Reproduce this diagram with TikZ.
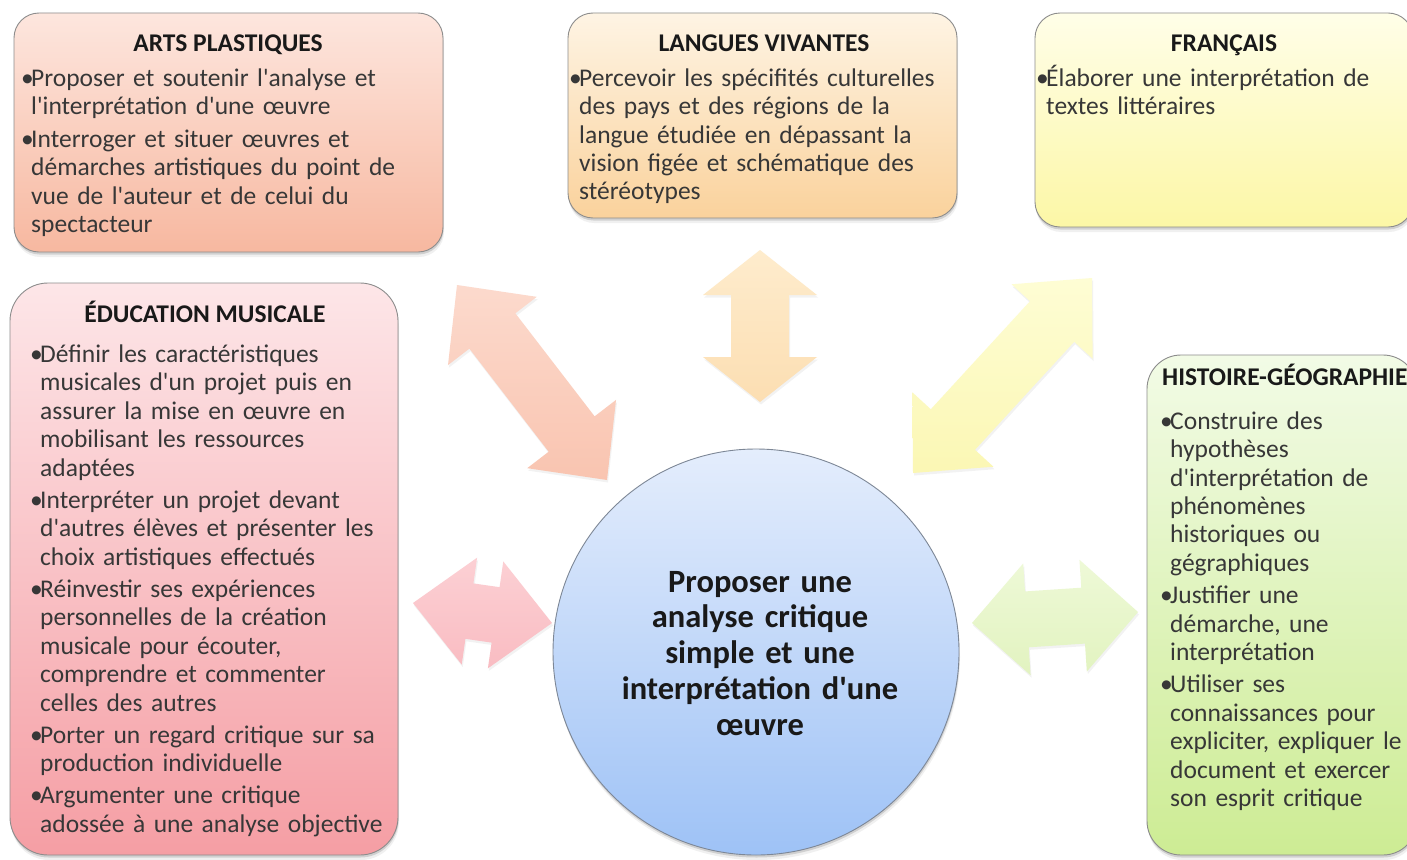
\documentclass[tikz,border=0pt]{standalone}
\usepackage{fontspec}
\setmainfont{Carlito}[Ligatures=TeXOff]
\usetikzlibrary{calc}
\definecolor{artsT}{RGB}{253,230,222}
\definecolor{artsB}{RGB}{247,184,160}
\definecolor{langT}{RGB}{254,244,228}
\definecolor{langB}{RGB}{250,210,156}
\definecolor{frT}{RGB}{255,254,232}
\definecolor{frB}{RGB}{252,247,166}
\definecolor{eduT}{RGB}{253,230,232}
\definecolor{eduB}{RGB}{245,158,164}
\definecolor{hgT}{RGB}{242,251,230}
\definecolor{hgB}{RGB}{205,236,148}
\definecolor{ciT}{RGB}{228,237,252}
\definecolor{ciB}{RGB}{158,194,246}
\definecolor{aartsT}{RGB}{252,218,205}
\definecolor{aartsB}{RGB}{249,196,176}
\definecolor{alangT}{RGB}{254,236,205}
\definecolor{alangB}{RGB}{252,222,178}
\definecolor{afrT}{RGB}{254,253,212}
\definecolor{afrB}{RGB}{251,247,180}
\definecolor{aeduT}{RGB}{252,208,212}
\definecolor{aeduB}{RGB}{249,188,194}
\definecolor{ahgT}{RGB}{238,249,215}
\definecolor{ahgB}{RGB}{226,243,192}
\definecolor{bordergray}{RGB}{140,140,140}
\definecolor{circleborder}{RGB}{125,135,150}
\definecolor{txtgray}{RGB}{55,55,55}
\definecolor{titlegray}{RGB}{25,25,25}

\newlength{\bw}\setlength{\bw}{10pt}
\newcommand{\bitem}{\hangindent=\bw\hangafter=1\noindent\makebox[\bw][l]{•}}
\newcommand{\fstrut}{\rule{0pt}{21pt}}
\newcommand{\dblarrow}[6]{%
  \coordinate (dA) at (#1); \coordinate (dB) at (#2);
  \coordinate (dP) at ($(dA)!#3!(dB)$);
  \coordinate (dQ) at ($(dB)!#3!(dA)$);
  \path[#6] (dA) -- ($(dP)!#4!90:(dB)$) -- ($(dP)!#5!90:(dB)$)
    -- ($(dQ)!#5!-90:(dA)$) -- ($(dQ)!#4!-90:(dA)$) -- (dB)
    -- ($(dQ)!#4!90:(dA)$) -- ($(dQ)!#5!90:(dA)$)
    -- ($(dP)!#5!-90:(dB)$) -- ($(dP)!#4!-90:(dB)$) -- cycle;}

\tikzset{
  boxshadow/.style={preaction={fill=black,opacity=0.13,transform canvas={xshift=0.5pt,yshift=-2.5pt}},
                    preaction={fill=black,opacity=0.06,transform canvas={xshift=1pt,yshift=-5pt}}},
  arrowshadow/.style={preaction={fill=black,opacity=0.05,transform canvas={xshift=1pt,yshift=-2.5pt}}},
  box/.style={rectangle, draw=bordergray, line width=0.9pt, inner sep=0pt, boxshadow},
  boxtitle/.style={inner sep=0pt, anchor=base, text=titlegray, font=\fontsize{25.5}{28}\selectfont\bfseries},
  bodytext/.style={inner sep=0pt, anchor=north west, text width=500pt, text=txtgray,
                   font=\fontsize{25.5}{28.4}\selectfont},
  bigarrow/.style={arrowshadow},
}

\begin{document}
\begin{tikzpicture}[x=1pt,y=-1pt]
\path[use as bounding box] (0,0) rectangle (1407,859);
\clip (0,0) rectangle (1407,859);
\fill[white] (0,0) rectangle (1407,859);

% boxes
\node[box, rounded corners=25pt, minimum width=429pt, minimum height=239pt,
      top color=artsT, bottom color=artsB] (arts) at (228.5,132.5) {};
\node[box, rounded corners=25pt, minimum width=389pt, minimum height=205pt,
      top color=langT, bottom color=langB] (langues) at (762.5,115.5) {};
\node[box, rounded corners=25pt, minimum width=378pt, minimum height=214pt,
      top color=frT, bottom color=frB] (francais) at (1224,120) {};
\node[box, rounded corners=38pt, minimum width=388pt, minimum height=572pt,
      top color=eduT, bottom color=eduB] (educ) at (204,569) {};
\node[box, rounded corners=34pt, minimum width=270pt, minimum height=500pt,
      top color=hgT, bottom color=hgB] (histgeo) at (1282,605) {};

% arrow end points
\coordinate (ap1) at (457,285);  \coordinate (ap2) at (607,480);
\coordinate (lv1) at (760,250);  \coordinate (lv2) at (760,402);
\coordinate (fr1) at (1092,278); \coordinate (fr2) at (913,473);
\coordinate (em1) at (413,603);  \coordinate (em2) at (552,623);
\coordinate (hg1) at (972,623);  \coordinate (hg2) at (1138,612);

\dblarrow{ap1}{ap2}{58pt}{56pt}{29pt}{bigarrow, top color=aartsT, bottom color=aartsB}
\dblarrow{lv1}{lv2}{45pt}{57pt}{29pt}{bigarrow, top color=alangT, bottom color=alangB}
\dblarrow{fr1}{fr2}{59pt}{55pt}{30pt}{bigarrow, top color=afrT, bottom color=afrB}
\dblarrow{em1}{em2}{57pt}{54pt}{28pt}{bigarrow, top color=aeduT, bottom color=aeduB}
\dblarrow{hg1}{hg2}{55pt}{56pt}{28pt}{bigarrow, top color=ahgT, bottom color=ahgB}

% central circle
\node[circle, draw=circleborder, line width=0.9pt, minimum size=406pt, inner sep=0pt,
      top color=ciT, bottom color=ciB, boxshadow] (centre) at (756,652) {};
\node[inner sep=0pt, anchor=north, text width=340pt, align=center, text=titlegray,
      font=\fontsize{32.5}{35.7}\selectfont\bfseries] (centretext) at (760,565)
  {\rule{0pt}{27pt}Proposer une\\ analyse critique\\ simple et une\\ interprétation d'une\\ œuvre};

% titles
\node[boxtitle] (artsT) at (228,52) {ARTS PLASTIQUES};
\node[boxtitle] (languesT) at (764,52) {LANGUES VIVANTES};
\node[boxtitle] (francaisT) at (1224,52) {FRANÇAIS};
\node[boxtitle] (educT) at (205,322) {ÉDUCATION MUSICALE};
\node[boxtitle, anchor=base west] (histgeoT) at (1162,385) {HISTOIRE-GÉOGRAPHIE};

% bodies
\node[bodytext] (artsB) at (21,65) {\setlength{\parskip}{4.5pt}%
\bitem\fstrut Proposer et soutenir l'analyse et\newline l'interprétation d'une œuvre\par
\bitem Interroger et situer œuvres et\newline démarches artistiques du point de\newline vue de l'auteur et de celui du\newline spectacteur\par};

\node[bodytext] (languesB) at (569,65) {\setlength{\parskip}{4.5pt}%
\bitem\fstrut Percevoir les spécifités culturelles\newline des pays et des régions de la\newline langue étudiée en dépassant la\newline vision figée et schématique des\newline stéréotypes\par};

\node[bodytext] (francaisB) at (1036,65) {\setlength{\parskip}{4.5pt}%
\bitem\fstrut Élaborer une interprétation de\newline textes littéraires\par};

\node[bodytext, font=\fontsize{25.5}{28.5}\selectfont] (educB) at (30,341) {\setlength{\parskip}{3.5pt}%
\bitem\fstrut Définir les caractéristiques\newline musicales d'un projet puis en\newline assurer la mise en œuvre en\newline mobilisant les ressources\newline adaptées\par
\bitem Interpréter un projet devant\newline d'autres élèves et présenter les\newline choix artistiques effectués\par
\bitem Réinvestir ses expériences\newline personnelles de la création\newline musicale pour écouter,\newline comprendre et commenter\newline celles des autres\par
\bitem Porter un regard critique sur sa\newline production individuelle\par
\bitem Argumenter une critique\newline adossée à une analyse objective\par};

\node[bodytext] (histgeoB) at (1160,408) {\setlength{\parskip}{4pt}%
\bitem\fstrut Construire des\newline hypothèses\newline d'interprétation de\newline phénomènes\newline historiques ou\newline gégraphiques\par
\bitem Justifier une\newline démarche, une\newline interprétation\par
\bitem Utiliser ses\newline connaissances pour\newline expliciter, expliquer le\newline document et exercer\newline son esprit critique\par};
\end{tikzpicture}
\end{document}
